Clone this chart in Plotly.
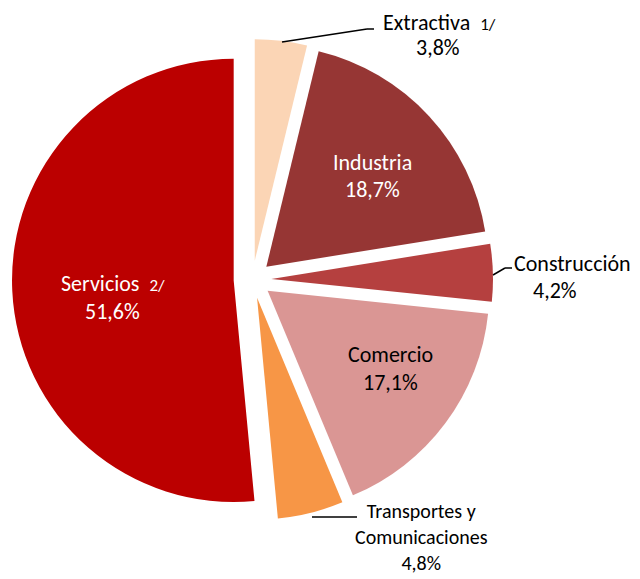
import plotly.graph_objects as go

# Composición por sector (%)
sectores = ["Extractiva", "Industria", "Construcción", "Comercio",
            "Transportes y Comunicaciones", "Servicios"]
porcentajes = [3.8, 18.7, 4.2, 17.1, 4.8, 51.6]
notas = ["1/", "", "", "", "", "2/"]
colores = ["#FBD5B5", "#963634", "#B5403F", "#DA9694", "#F79646", "#BB0000"]
color_texto = ["black", "white", "black", "black", "black", "white"]

FUENTE = "Carlito, Lato, sans-serif"
TAM = 22
W, H = 640, 579
OFF = 8  # margen del <body> en la página


def px(x, y):
    # píxeles de la imagen -> coordenadas paper
    return (x - OFF) / W, 1 - (y - OFF) / H


(x0d, y1d), (x1d, y0d) = px(12, 39), px(493, 520)
fig = go.Figure(go.Pie(
    labels=sectores,
    values=porcentajes,
    sort=False,
    direction="clockwise",
    rotation=0,
    pull=0.085,
    marker=dict(colors=colores, line=dict(width=0)),
    textinfo="none",
    hoverinfo="label+percent",
    showlegend=False,
    domain=dict(x=[x0d, x1d], y=[y0d, y1d]),
))

# posición (px) de cada línea de la etiqueta: nombre y porcentaje
pos_etiquetas = [
    [(439, 22), (438, 48)],
    [(372, 162), (372, 189)],
    [(572, 263), (555, 290)],
    [(390, 355), (390, 382)],
    [(421, 537)],
    [(113, 283), (112, 311)],
]

for s, p, n, c, pos in zip(sectores, porcentajes, notas, color_texto, pos_etiquetas):
    nom = s if not n else f"{s}  <span style='font-size:17px'>{n}</span>"
    pct = f"{p:.1f}%".replace(".", ",")
    tam = TAM
    if s.startswith("Transportes"):
        # bloque de tres líneas junto al borde inferior
        lineas_txt = [f"Transportes y<br>Comunicaciones<br>{pct}"]
        tam = 20
    else:
        lineas_txt = [nom, pct]
    for txt, (x, y) in zip(lineas_txt, pos):
        xx, yy = px(x, y)
        fig.add_annotation(x=xx, y=yy, xref="paper", yref="paper", text=txt,
                           showarrow=False, xanchor="center", yanchor="middle",
                           align="center",
                           font=dict(family=FUENTE, size=tam, color=c))

# líneas guía
guias = [
    [(282, 42), (367, 29), (374, 29)],
    [(493, 275), (505, 268), (512, 268)],
    [(312, 517), (357, 517)],
]
for pts in guias:
    for (xa, ya), (xb, yb) in zip(pts[:-1], pts[1:]):
        a0, b0 = px(xa, ya)
        a1, b1 = px(xb, yb)
        fig.add_shape(type="line", xref="paper", yref="paper",
                      x0=a0, y0=b0, x1=a1, y1=b1,
                      line=dict(color="black", width=1.5))

fig.update_layout(
    width=W, height=H,
    margin=dict(l=0, r=0, t=0, b=0),
    paper_bgcolor="white",
    plot_bgcolor="white",
)

fig.write_html("out.html")
